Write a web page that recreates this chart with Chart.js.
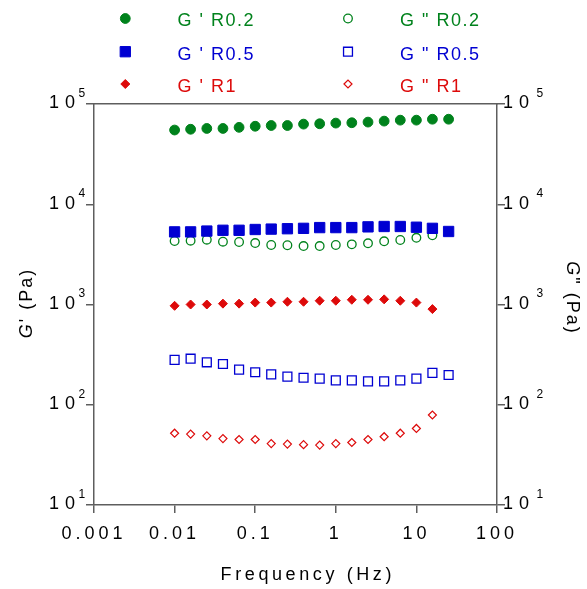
<!DOCTYPE html>
<html>
<head>
<meta charset="utf-8">
<script src="https://cdn.jsdelivr.net/npm/chart.js@4.4.1/dist/chart.umd.min.js"></script>
<style>
  html, body { margin: 0; padding: 0; background: #fff; }
  #wrap { width: 587px; height: 589px; }
</style>
</head>
<body>
<div id="wrap"><canvas id="myChart" width="587" height="589"></canvas></div>
<script>
// frequency sweep (Hz), 5 points per decade
const freqHz = [0.01, 0.0158, 0.0251, 0.0398, 0.0631, 0.1, 0.158, 0.251, 0.398, 0.631, 1, 1.58, 2.51, 3.98, 6.31, 10, 15.8, 25.1];

// storage modulus G' (Pa)
const gpR02 = [55000, 56000, 57000, 57000, 58500, 60000, 61000, 61000, 63000, 63500, 64500, 65000, 66000, 67500, 69000, 69000, 70500, 70500];
const gpR05 = [5300, 5300, 5400, 5500, 5500, 5600, 5650, 5700, 5750, 5850, 5850, 5850, 5950, 6000, 6000, 5900, 5750, 5350];
const gpR1 = [970, 1000, 1000, 1020, 1020, 1045, 1045, 1065, 1065, 1090, 1090, 1115, 1115, 1125, 1090, 1045, 900];

// loss modulus G" (Pa)
const gppR02 = [4300, 4330, 4430, 4230, 4200, 4100, 3920, 3900, 3830, 3830, 3920, 3980, 4080, 4270, 4400, 4630, 4900];
const gppR05 = [280, 288, 265, 255, 224, 211, 201, 191, 186, 182, 175, 175, 171, 171, 175, 182, 208, 198];
const gppR1 = [52, 51, 49, 46, 45, 45, 41, 40.5, 40, 39.6, 41, 42, 45, 48, 52, 58, 79];

const xTicks = [0.001, 0.01, 0.1, 1, 10, 100];
const yTicks = [10, 100, 1000, 10000, 100000];
const seriesLabels = ["G ' R0.2", "G ' R0.5", "G ' R1", 'G " R0.2', 'G " R0.5', 'G " R1'];

const green = "#00821c";
const blue = "#0000d2";
const red = "#dd0a0a";
const axisGray = "#5e5e5e";
const FONT = 'Arial, "Liberation Sans", sans-serif';

Chart.defaults.font.family = FONT;

const pts = ys => ys.map((y, i) => ({ x: freqHz[i], y: y }));
const none = "rgba(255,255,255,0)";

document.addEventListener("DOMContentLoaded", () => {
  const ctx = document.getElementById("myChart").getContext("2d");

  // filled symbols first so they sit on top of the open ones
  let chartData = {
    datasets: [
      { label: seriesLabels[0], data: pts(gpR02), yAxisID: "y", pointStyle: "circle", pointRadius: 4.9,
        backgroundColor: green, borderColor: green, pointBorderWidth: 1 },
      { label: seriesLabels[1], data: pts(gpR05), yAxisID: "y", pointStyle: "rect", pointRadius: 7.3,
        backgroundColor: blue, borderColor: blue, pointBorderWidth: 1 },
      { label: seriesLabels[2], data: pts(gpR1), yAxisID: "y", pointStyle: "rectRot", pointRadius: 4.5,
        backgroundColor: red, borderColor: red, pointBorderWidth: 1 },
      { label: seriesLabels[3], data: pts(gppR02), yAxisID: "y2", pointStyle: "circle", pointRadius: 4.3,
        backgroundColor: none, borderColor: green, pointBorderWidth: 1.3 },
      { label: seriesLabels[4], data: pts(gppR05), yAxisID: "y2", pointStyle: "rect", pointRadius: 6.3,
        backgroundColor: none, borderColor: blue, pointBorderWidth: 1.3 },
      { label: seriesLabels[5], data: pts(gppR1), yAxisID: "y2", pointStyle: "rectRot", pointRadius: 4.0,
        backgroundColor: none, borderColor: red, pointBorderWidth: 1.2 }
    ]
  };

  const decadeTicks = list => s => { s.ticks = list.map(v => ({ value: v })); };
  const sideAxis = (pos, w) => ({
    type: "logarithmic", position: pos, min: 10, max: 100000,
    afterBuildTicks: decadeTicks(yTicks),
    afterFit: s => { s.width = w; },
    ticks: { display: false },
    grid: { drawOnChartArea: false, tickLength: 8, color: axisGray, lineWidth: 1.5 },
    border: { color: axisGray, width: 1.5 }
  });

  // draws text with optional italic pieces, centred on (x, y), rotated by rot
  let drawParts = (c, parts, x, y, rot, spacing) => {
    c.save();
    c.letterSpacing = spacing + "px";
    let total = 0;
    parts.forEach(p => { c.font = (p.it ? "italic " : "") + "18px " + FONT; total += c.measureText(p.t).width; });
    c.translate(x, y);
    c.rotate(rot);
    c.textAlign = "left";
    c.textBaseline = "middle";
    let cx = -total / 2;
    parts.forEach(p => {
      c.font = (p.it ? "italic " : "") + "18px " + FONT;
      c.fillText(p.t, cx, 0);
      cx += c.measureText(p.t).width;
    });
    c.restore();
  };

  const textLayer = {
    id: "textLayer",
    beforeDraw(chart) { chart.ctx.letterSpacing = "4px"; },
    afterDraw(chart) {
      const c = chart.ctx;
      const area = chart.chartArea;
      const sc = chart.scales;
      c.save();
      c.fillStyle = "#000";
      c.textAlign = "left";
      c.textBaseline = "middle";

      // decade labels 10^n on both sides
      yTicks.forEach(v => {
        const exp = String(Math.round(Math.log10(v)));
        const yl = sc.y.getPixelForValue(v);
        const yr = sc.y2.getPixelForValue(v);
        c.letterSpacing = "6px";
        c.font = "18px " + FONT;
        c.fillText("10", area.left - 45, yl - 0.5);
        c.fillText("10", area.right + 6, yr - 0.5);
        c.letterSpacing = "0px";
        c.font = "12px " + FONT;
        c.fillText(exp, area.left - 15.5, yl - 10.5);
        c.fillText(exp, area.right + 39.5, yr - 10.5);
      });

      // axis titles
      drawParts(c, [{ t: "G", it: true }, { t: "' (Pa)" }], 27, 303, -Math.PI / 2, 2);
      drawParts(c, [{ t: "G", it: true }, { t: '" (Pa)' }], 572, 298, Math.PI / 2, 2);
      drawParts(c, [{ t: "Frequency (Hz)" }], 307.8, 575, 0, 3.6);

      // legend, two columns of three
      const symX = [125.3, 348], txtX = [177.5, 400];
      const symY = [18.5, 51.7, 84], txtY = [21.5, 54.7, 87.3];
      chart.data.datasets.forEach((ds, i) => {
        const col = i < 3 ? 0 : 1, row = i % 3;
        c.fillStyle = ds.backgroundColor;
        c.strokeStyle = ds.borderColor;
        c.lineWidth = ds.pointBorderWidth;
        if (Chart.helpers && Chart.helpers.drawPoint) {
          Chart.helpers.drawPoint(c, { pointStyle: ds.pointStyle, rotation: 0, radius: ds.pointRadius,
            borderWidth: ds.pointBorderWidth }, symX[col], symY[row]);
        }
        c.fillStyle = ds.borderColor;
        c.letterSpacing = "1.5px";
        c.font = "18px " + FONT;
        c.fillText(ds.label, txtX[col], txtY[row]);
      });
      c.restore();
    }
  };

  let chartOption = {
    responsive: false,
    animation: false,
    devicePixelRatio: 1,
    events: [],
    layout: { padding: { top: 104, left: 0, right: 0, bottom: 0 } },
    plugins: { legend: { display: false }, tooltip: { enabled: false } },
    scales: {
      x: {
        type: "logarithmic", position: "bottom", min: 0.001, max: 100,
        afterBuildTicks: decadeTicks(xTicks),
        afterFit: s => { s.height = 84; },
        ticks: { color: "#000", font: { size: 18 }, padding: 10, maxRotation: 0, autoSkip: false,
          callback: v => String(v) },
        grid: { drawOnChartArea: false, tickLength: 8, color: axisGray, lineWidth: 1.5 },
        border: { color: axisGray, width: 1.5 }
      },
      x2: {
        type: "logarithmic", position: "top", min: 0.001, max: 100,
        afterFit: s => { s.height = 0; },
        ticks: { display: false },
        grid: { display: false },
        border: { color: axisGray, width: 1.5 }
      },
      y: sideAxis("left", 94),
      y2: sideAxis("right", 90)
    }
  };

  new Chart(ctx, {
    type: "scatter",
    data: chartData,
    options: chartOption,
    plugins: [textLayer]
  });
});
</script>
</body>
</html>
